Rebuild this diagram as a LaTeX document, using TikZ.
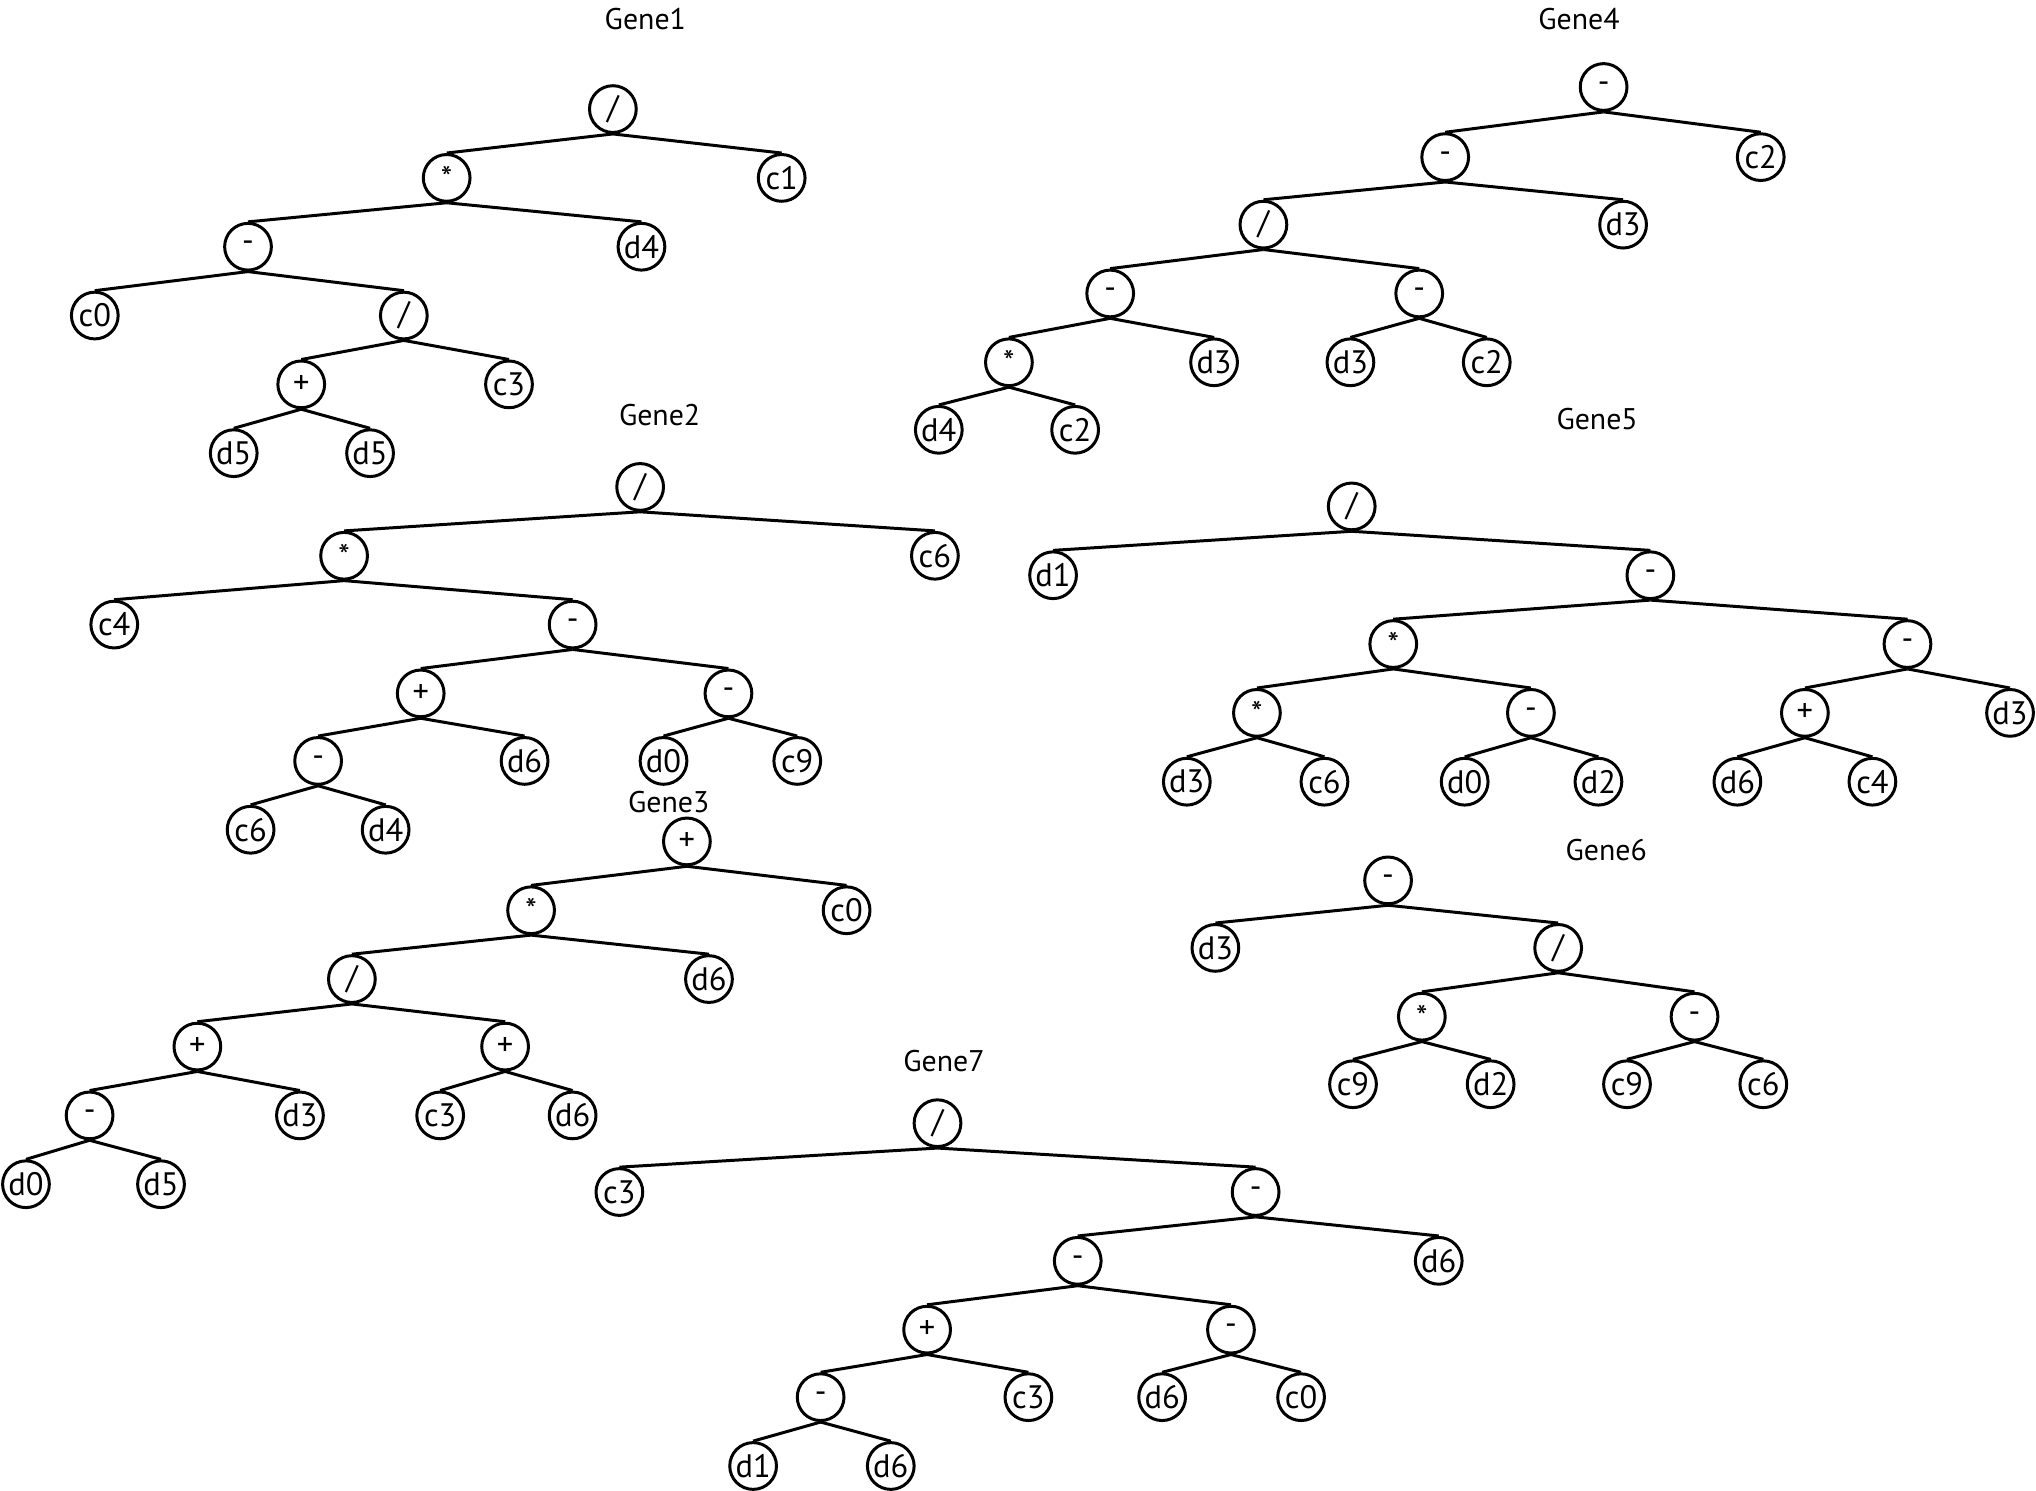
\documentclass[tikz,border=0pt]{standalone}
\usepackage{fontspec}
\setmainfont{PT Sans}
\usetikzlibrary{positioning}

\begin{document}
\begin{tikzpicture}[
    x=0.5pt, y=-0.5pt, line width=1.15pt,
    gnode/.style={
        circle, draw=black, fill=white, inner sep=0pt,
        minimum size=18pt, font=\fontsize{12.5}{13}\selectfont
    },
    title/.style={font=\fontsize{11.5}{13}\selectfont}
]
    \useasboundingbox (0,0) rectangle (1568,1148);

    % --- Gene1 ---
    \node[title] (T1) at (497,15) {Gene1};
    \node[gnode] (g1a) at (472,84) {/};
    \node[gnode] (g1b) at (344,137) {*};
    \node[gnode] (g1c) at (602,137) {c1};
    \node[gnode] (g1d) at (191,190) {-};
    \node[gnode] (g1e) at (494,190) {d4};
    \node[gnode] (g1f) at (73,243) {c0};
    \node[gnode] (g1g) at (311,243) {/};
    \node[gnode] (g1h) at (232,296) {+};
    \node[gnode] (g1i) at (392,296) {c3};
    \node[gnode] (g1j) at (180,349) {d5};
    \node[gnode] (g1k) at (285,349) {d5};

    \draw (g1a.south) -- (g1b.north);
    \draw (g1a.south) -- (g1c.north);
    \draw (g1b.south) -- (g1d.north);
    \draw (g1b.south) -- (g1e.north);
    \draw (g1d.south) -- (g1f.north);
    \draw (g1d.south) -- (g1g.north);
    \draw (g1g.south) -- (g1h.north);
    \draw (g1g.south) -- (g1i.north);
    \draw (g1h.south) -- (g1j.north);
    \draw (g1h.south) -- (g1k.north);

    % --- Gene2 ---
    \node[title] (T2) at (508,320) {Gene2};
    \node[gnode] (g2a) at (493,375) {/};
    \node[gnode] (g2b) at (265,428) {*};
    \node[gnode] (g2c) at (720,428) {c6};
    \node[gnode] (g2d) at (88,481) {c4};
    \node[gnode] (g2e) at (441,481) {-};
    \node[gnode] (g2f) at (324,534) {+};
    \node[gnode] (g2g) at (561,534) {-};
    \node[gnode] (g2h) at (245,586) {-};
    \node[gnode] (g2i) at (404,586) {d6};
    \node[gnode] (g2j) at (511,586) {d0};
    \node[gnode] (g2k) at (614,586) {c9};
    \node[gnode] (g2l) at (193,639) {c6};
    \node[gnode] (g2m) at (297,639) {d4};

    \draw (g2a.south) -- (g2b.north);
    \draw (g2a.south) -- (g2c.north);
    \draw (g2b.south) -- (g2d.north);
    \draw (g2b.south) -- (g2e.north);
    \draw (g2e.south) -- (g2f.north);
    \draw (g2e.south) -- (g2g.north);
    \draw (g2f.south) -- (g2h.north);
    \draw (g2f.south) -- (g2i.north);
    \draw (g2g.south) -- (g2j.north);
    \draw (g2g.south) -- (g2k.north);
    \draw (g2h.south) -- (g2l.north);
    \draw (g2h.south) -- (g2m.north);

    % --- Gene3 ---
    \node[title] (T3) at (515,618) {Gene3};
    \node[gnode] (g3a) at (529,648) {+};
    \node[gnode] (g3b) at (409,701) {*};
    \node[gnode] (g3c) at (652,701) {c0};
    \node[gnode] (g3d) at (271,754) {/};
    \node[gnode] (g3e) at (546,754) {d6};
    \node[gnode] (g3f) at (152,806) {+};
    \node[gnode] (g3g) at (389,806) {+};
    \node[gnode] (g3h) at (69,859) {-};
    \node[gnode] (g3i) at (231,859) {d3};
    \node[gnode] (g3j) at (339,859) {c3};
    \node[gnode] (g3k) at (441,859) {d6};
    \node[gnode] (g3l) at (20,912) {d0};
    \node[gnode] (g3m) at (124,912) {d5};

    \draw (g3a.south) -- (g3b.north);
    \draw (g3a.south) -- (g3c.north);
    \draw (g3b.south) -- (g3d.north);
    \draw (g3b.south) -- (g3e.north);
    \draw (g3d.south) -- (g3f.north);
    \draw (g3d.south) -- (g3g.north);
    \draw (g3f.south) -- (g3h.north);
    \draw (g3f.south) -- (g3i.north);
    \draw (g3g.south) -- (g3j.north);
    \draw (g3g.south) -- (g3k.north);
    \draw (g3h.south) -- (g3l.north);
    \draw (g3h.south) -- (g3m.north);

    % --- Gene4 ---
    \node[title] (T4) at (1216,15) {Gene4};
    \node[gnode] (g4a) at (1235,67) {-};
    \node[gnode] (g4b) at (1113,121) {-};
    \node[gnode] (g4c) at (1356,121) {c2};
    \node[gnode] (g4d) at (973,173) {/};
    \node[gnode] (g4e) at (1250,173) {d3};
    \node[gnode] (g4f) at (855,226) {-};
    \node[gnode] (g4g) at (1093,226) {-};
    \node[gnode] (g4h) at (777,279) {*};
    \node[gnode] (g4i) at (935,279) {d3};
    \node[gnode] (g4j) at (1040,279) {d3};
    \node[gnode] (g4k) at (1145,279) {c2};
    \node[gnode] (g4l) at (723,331) {d4};
    \node[gnode] (g4m) at (828,331) {c2};

    \draw (g4a.south) -- (g4b.north);
    \draw (g4a.south) -- (g4c.north);
    \draw (g4b.south) -- (g4d.north);
    \draw (g4b.south) -- (g4e.north);
    \draw (g4d.south) -- (g4f.north);
    \draw (g4d.south) -- (g4g.north);
    \draw (g4f.south) -- (g4h.north);
    \draw (g4f.south) -- (g4i.north);
    \draw (g4g.south) -- (g4j.north);
    \draw (g4g.south) -- (g4k.north);
    \draw (g4h.south) -- (g4l.north);
    \draw (g4h.south) -- (g4m.north);

    % --- Gene5 ---
    \node[title] (T5) at (1230,323) {Gene5};
    \node[gnode] (g5a) at (1041,390) {/};
    \node[gnode] (g5b) at (811,443) {d1};
    \node[gnode] (g5c) at (1271,443) {-};
    \node[gnode] (g5d) at (1073,496) {*};
    \node[gnode] (g5e) at (1469,496) {-};
    \node[gnode] (g5f) at (968,549) {*};
    \node[gnode] (g5g) at (1179,549) {-};
    \node[gnode] (g5h) at (1390,549) {+};
    \node[gnode] (g5i) at (1548,549) {d3};
    \node[gnode] (g5j) at (914,602) {d3};
    \node[gnode] (g5k) at (1020,602) {c6};
    \node[gnode] (g5l) at (1128,602) {d0};
    \node[gnode] (g5m) at (1231,602) {d2};
    \node[gnode] (g5n) at (1338,602) {d6};
    \node[gnode] (g5o) at (1442,602) {c4};

    \draw (g5a.south) -- (g5b.north);
    \draw (g5a.south) -- (g5c.north);
    \draw (g5c.south) -- (g5d.north);
    \draw (g5c.south) -- (g5e.north);
    \draw (g5d.south) -- (g5f.north);
    \draw (g5d.south) -- (g5g.north);
    \draw (g5e.south) -- (g5h.north);
    \draw (g5e.south) -- (g5i.north);
    \draw (g5f.south) -- (g5j.north);
    \draw (g5f.south) -- (g5k.north);
    \draw (g5g.south) -- (g5l.north);
    \draw (g5g.south) -- (g5m.north);
    \draw (g5h.south) -- (g5n.north);
    \draw (g5h.south) -- (g5o.north);

    % --- Gene6 ---
    \node[title] (T6) at (1237,655) {Gene6};
    \node[gnode] (g6a) at (1069,678) {-};
    \node[gnode] (g6b) at (936,730) {d3};
    \node[gnode] (g6c) at (1200,730) {/};
    \node[gnode] (g6d) at (1095,783) {*};
    \node[gnode] (g6e) at (1305,783) {-};
    \node[gnode] (g6f) at (1042,835) {c9};
    \node[gnode] (g6g) at (1148,835) {d2};
    \node[gnode] (g6h) at (1253,835) {c9};
    \node[gnode] (g6i) at (1358,835) {c6};

    \draw (g6a.south) -- (g6b.north);
    \draw (g6a.south) -- (g6c.north);
    \draw (g6c.south) -- (g6d.north);
    \draw (g6c.south) -- (g6e.north);
    \draw (g6d.south) -- (g6f.north);
    \draw (g6d.south) -- (g6g.north);
    \draw (g6e.south) -- (g6h.north);
    \draw (g6e.south) -- (g6i.north);

    % --- Gene7 ---
    \node[title] (T7) at (727,817) {Gene7};
    \node[gnode] (g7a) at (722,865) {/};
    \node[gnode] (g7b) at (477,918) {c3};
    \node[gnode] (g7c) at (967,918) {-};
    \node[gnode] (g7d) at (830,971) {-};
    \node[gnode] (g7e) at (1108,971) {d6};
    \node[gnode] (g7f) at (714,1024) {+};
    \node[gnode] (g7g) at (948,1024) {-};
    \node[gnode] (g7h) at (632,1076) {-};
    \node[gnode] (g7i) at (792,1076) {c3};
    \node[gnode] (g7j) at (895,1076) {d6};
    \node[gnode] (g7k) at (1002,1076) {c0};
    \node[gnode] (g7l) at (580,1129) {d1};
    \node[gnode] (g7m) at (686,1129) {d6};

    \draw (g7a.south) -- (g7b.north);
    \draw (g7a.south) -- (g7c.north);
    \draw (g7c.south) -- (g7d.north);
    \draw (g7c.south) -- (g7e.north);
    \draw (g7d.south) -- (g7f.north);
    \draw (g7d.south) -- (g7g.north);
    \draw (g7f.south) -- (g7h.north);
    \draw (g7f.south) -- (g7i.north);
    \draw (g7g.south) -- (g7j.north);
    \draw (g7g.south) -- (g7k.north);
    \draw (g7h.south) -- (g7l.north);
    \draw (g7h.south) -- (g7m.north);

\end{tikzpicture}
\end{document}
